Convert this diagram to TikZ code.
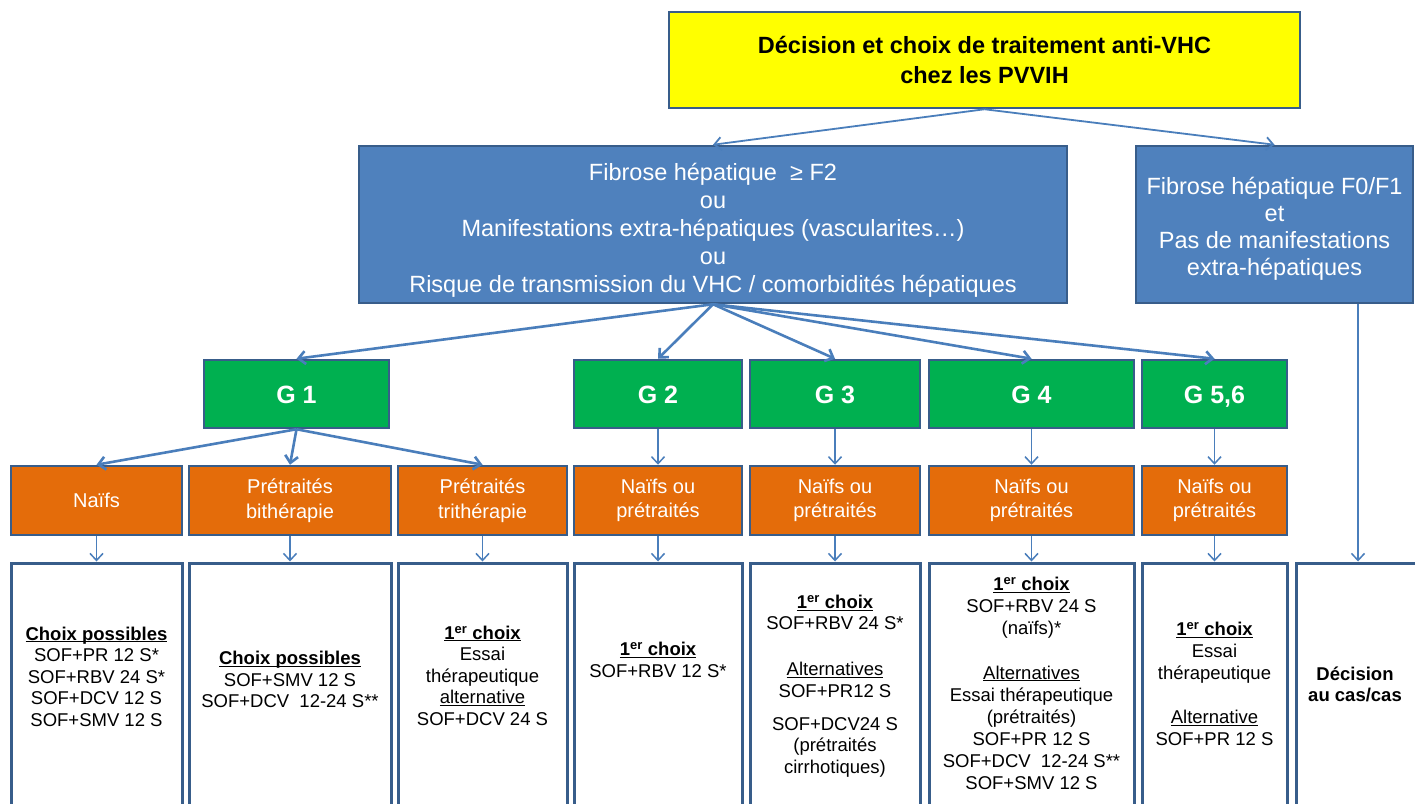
\documentclass[tikz,border=0pt]{standalone}
\usepackage{fontspec}
\setmainfont{Liberation Sans}
\usetikzlibrary{arrows.meta,calc}
\definecolor{bord}{HTML}{385D8A}
\definecolor{fillblue}{HTML}{4F81BD}
\definecolor{fillgreen}{HTML}{00B050}
\definecolor{fillorange}{HTML}{E46C0A}
\definecolor{arrowc}{HTML}{4A7EBB}
\definecolor{yel}{HTML}{FFFF00}
\newcommand{\ulx}[1]{\underline{\vphantom{X}\smash{#1}}}
\newcommand{\ulb}[1]{\ulx{\textbf{#1}}}
\newcommand{\premchoix}{\ulx{\textbf{1\textsuperscript{er} choix}}}
\begin{document}
\begin{tikzpicture}[x=1pt,y=-1pt,
  boxbase/.style={draw=bord, line width=2.5pt, inner sep=0pt, align=center},
  ybox/.style={boxbase, fill=yel, font=\fontsize{23.5}{30}\selectfont\bfseries},
  bbox/.style={boxbase, fill=fillblue, text=white, font=\fontsize{23.5}{28}\selectfont},
  gbox/.style={boxbase, fill=fillgreen, text=white, font=\fontsize{25}{30}\selectfont\bfseries, minimum height=68, text height=18pt, text depth=0pt},
  obox/.style={boxbase, fill=fillorange, text=white, font=\fontsize{20}{24.5}\selectfont, minimum height=69},
  wbox/.style={boxbase, fill=white, line width=3pt, minimum height=245},
  wtext/.style={align=center, inner sep=0pt, font=\fontsize{18.5}{21.5}\selectfont},
  arr/.style={draw=arrowc, line width=1.8pt, -{Straight Barb[length=7pt,width=13pt]}},
  arrthick/.style={arr, line width=2.6pt},
  arrthin/.style={arr, line width=1.5pt}
]
\useasboundingbox (0,0) rectangle (1415,803);
\fill[white] (0,0) rectangle (1415,803);

% top
\node[ybox, minimum width=631, minimum height=96] (top) at (984.5,60) {D\'ecision et choix de traitement anti-VHC\\chez les PVVIH};

% blue
\node[bbox, minimum width=708, minimum height=157] (b1) at (713,224.5) {\rule{0pt}{28pt}Fibrose h\'epatique \ ≥ F2\\ou\\Manifestations extra-h\'epatiques (vascularites…)\\ou\\Risque de transmission du VHC / comorbidit\'es h\'epatiques};
\node[bbox, font=\fontsize{23.5}{27}\selectfont, minimum width=277, minimum height=157] (b2) at (1274.5,224.5) {\rule{0pt}{26pt}Fibrose h\'epatique F0/F1\\et\\Pas de manifestations\\extra-h\'epatiques};

% green
\node[gbox, minimum width=185] (g1) at (296.5,394) {G 1};
\node[gbox, minimum width=168] (g2) at (658,394) {G 2};
\node[gbox, minimum width=170] (g3) at (835,394) {G 3};
\node[gbox, minimum width=205] (g4) at (1031.5,394) {G 4};
\node[gbox, minimum width=145] (g5) at (1214.5,394) {G 5,6};

% orange
\node[obox, minimum width=171] (o1) at (96.5,500.5) {Na\"ifs};
\node[obox, minimum width=202] (o2) at (290,500.5) {Pr\'etrait\'es\\bith\'erapie};
\node[obox, minimum width=169] (o3) at (482.5,500.5) {Pr\'etrait\'es\\trith\'erapie};
\node[obox, minimum width=168] (o4) at (658,500.5) {Na\"ifs ou\\pr\'etrait\'es};
\node[obox, minimum width=170] (o5) at (835,500.5) {Na\"ifs ou\\pr\'etrait\'es};
\node[obox, minimum width=205] (o6) at (1031.5,500.5) {Na\"ifs ou\\pr\'etrait\'es};
\node[obox, minimum width=145] (o7) at (1214.5,500.5) {Na\"ifs ou\\pr\'etrait\'es};

% white boxes
\node[wbox, minimum width=171] (w1) at (96.5,685.5) {};
\node[wbox, minimum width=202] (w2) at (290,685.5) {};
\node[wbox, minimum width=169] (w3) at (482.5,685.5) {};
\node[wbox, minimum width=168] (w4) at (658,685.5) {};
\node[wbox, minimum width=170] (w5) at (835,685.5) {};
\node[wbox, minimum width=205] (w6) at (1031.5,685.5) {};
\node[wbox, minimum width=145] (w7) at (1214.5,685.5) {};
\node[wbox, minimum width=124] (w8) at (1358,685.5) {};

% white texts
\node[wtext] (t1) at (96.5,677) {\ulb{Choix possibles}\\SOF+PR 12 S*\\SOF+RBV 24 S*\\SOF+DCV 12 S\\SOF+SMV 12 S};
\node[wtext] (t2) at (290,680) {\ulb{Choix possibles}\\SOF+SMV 12 S\\SOF+DCV \ 12-24 S**};
\node[wtext] (t3) at (482.5,676) {\premchoix\\Essai\\th\'erapeutique\\\ulx{alternative}\\SOF+DCV 24 S};
\node[wtext] (t4) at (658,660) {\premchoix\\SOF+RBV 12 S*};
\node[wtext] (t5) at (835,686.5) {\premchoix\\SOF+RBV 24 S*\\[24.5pt]\ulx{Alternatives}\\SOF+PR12 S\\[11.5pt]SOF+DCV24 S\\(pr\'etrait\'es\\cirrhotiques)};
\node[wtext, font=\fontsize{18.5}{22}\selectfont] (t6) at (1031.5,683.5) {\premchoix\\SOF+RBV 24 S\\(na\"ifs)*\\[22.5pt]\ulx{Alternatives}\\Essai th\'erapeutique\\(pr\'etrait\'es)\\SOF+PR 12 S\\SOF+DCV \ 12-24 S**\\SOF+SMV 12 S};
\node[wtext, font=\fontsize{18.5}{22}\selectfont] (t7) at (1214.5,684.5) {\premchoix\\Essai\\th\'erapeutique\\[22pt]\ulx{Alternative}\\SOF+PR 12 S};
\node[wtext, font=\fontsize{18.5}{21}\selectfont\bfseries] (t8) at (1355,684.5) {D\'ecision\\au cas/cas};

% arrows
\draw[arr] (top.south) -- (b1.north);
\draw[arr] (top.south) -- (b2.north);
\draw[arrthick] (b1.south) -- (g1.north);
\draw[arrthick] (b1.south) -- (g2.north);
\draw[arrthick] (b1.south) -- (g3.north);
\draw[arrthick] (b1.south) -- (g4.north);
\draw[arrthick] (b1.south) -- (g5.north);
\draw[arrthick] (g1.south) -- (o1.north);
\draw[arrthick] (g1.south) -- (o2.north);
\draw[arrthick] (g1.south) -- (o3.north);
\draw[arrthin] (g2.south) -- (o4.north);
\draw[arrthin] (g3.south) -- (o5.north);
\draw[arrthin] (g4.south) -- (o6.north);
\draw[arrthin] (g5.south) -- (o7.north);
\foreach \i in {1,...,7} {\draw[arrthin] (o\i.south) -- (w\i.north);}
\draw[arrthin] (b2.south -| w8.north) -- (w8.north);
\end{tikzpicture}
\end{document}
